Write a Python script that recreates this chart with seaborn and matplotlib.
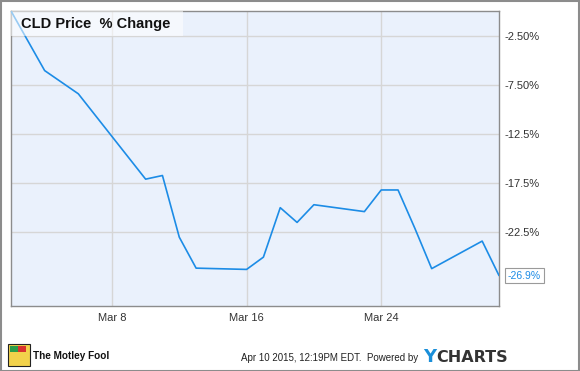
import matplotlib
matplotlib.use("Agg")
import matplotlib.pyplot as plt
import matplotlib.patches as mpatches
import seaborn as sns
import pandas as pd

dates = ["2015-03-02", "2015-03-04", "2015-03-06", "2015-03-10", "2015-03-11",
         "2015-03-12", "2015-03-13", "2015-03-16", "2015-03-17", "2015-03-18",
         "2015-03-19", "2015-03-20", "2015-03-23", "2015-03-24", "2015-03-25",
         "2015-03-26", "2015-03-27", "2015-03-30", "2015-03-31"]
pct_change = [0.0, -6.06, -8.42, -17.1, -16.73,
              -23.0, -26.15, -26.28, -25.03, -20.0,
              -21.5, -19.7, -20.4, -18.2, -18.2,
              -22.1, -26.2, -23.4, -26.9]
y_ticks = [-2.5, -7.5, -12.5, -17.5, -22.5]
y_tick_labels = ["-2.50%", "-7.50%", "-12.5%", "-17.5%", "-22.5%"]
x_ticks = ["2015-03-08", "2015-03-16", "2015-03-24"]
x_tick_labels = ["Mar 8", "Mar 16", "Mar 24"]
title = "CLD Price  % Change"
end_label = "-26.9%"

df = pd.DataFrame({"date": pd.to_datetime(dates), "pct": pct_change})

sns.set_style("white")
plt.rcParams["font.family"] = ["Liberation Sans", "DejaVu Sans"]

W, H = 580, 371
fig = plt.figure(figsize=(W / 100, H / 100), dpi=100)
fig.patch.set_facecolor("white")

left, right, top, bottom = 11, 499, 11, 306
ax = fig.add_axes([left / W, (H - bottom) / H, (right - left) / W, (bottom - top) / H])
ax.set_facecolor("#eaf1fc")

line_color = "#1c8ce6"
sns.lineplot(data=df, x="date", y="pct", ax=ax, color=line_color, linewidth=1.2, zorder=3)

ax.set_xlim(pd.Timestamp("2015-03-02"), pd.Timestamp("2015-03-31"))
ax.set_ylim(-30, 0)
ax.set_xticks(pd.to_datetime(x_ticks))
ax.set_xticklabels(x_tick_labels, fontsize=8, color="#333333")
ax.set_yticks(y_ticks)
ax.set_yticklabels(y_tick_labels, fontsize=8, color="#333333")
ax.yaxis.tick_right()
ax.tick_params(axis="both", length=0)
ax.tick_params(axis="y", pad=4)
ax.tick_params(axis="x", pad=5)
ax.grid(True, color="#d6d6d6", linewidth=1.0, zorder=0)
ax.set_axisbelow(True)
ax.set_xlabel("")
ax.set_ylabel("")
for s in ax.spines.values():
    s.set_color("#8c8c8c")
    s.set_linewidth(1.0)

# title box (semi-transparent)
ax.add_patch(mpatches.Rectangle((0, 1 - 25 / 295), 172 / 488, 25 / 295, transform=ax.transAxes,
                                facecolor="white", alpha=0.55, edgecolor="none", zorder=4))
ax.text(10 / 488, 1 - 13 / 295, title, transform=ax.transAxes, fontsize=10.5,
        fontweight="bold", color="#111111", va="center", ha="left", zorder=5)

# end value label
ax.annotate(end_label, xy=(df["date"].iloc[-1], df["pct"].iloc[-1]),
            xytext=(9, 0), textcoords="offset pixels", va="center", ha="left",
            fontsize=7.5, color=line_color, annotation_clip=False,
            bbox=dict(boxstyle="square,pad=0.25", fc="white", ec="#9a9a9a", lw=0.8))

# footer
fig.text(33 / W, 1 - 356 / H, "The Motley Fool", fontsize=7.2, fontweight="bold",
         color="#111111", va="center", ha="left")
logo = mpatches.Rectangle((8 / W, 1 - 366 / H), 22 / W, 22 / H, transform=fig.transFigure,
                          facecolor="#f2d24b", edgecolor="#222222", lw=0.8)
fig.patches.append(logo)
fig.patches.append(mpatches.Rectangle((10 / W, 1 - 352 / H), 8 / W, 6 / H, transform=fig.transFigure,
                                      facecolor="#2a9d4a", edgecolor="none"))
fig.patches.append(mpatches.Rectangle((18 / W, 1 - 352 / H), 8 / W, 6 / H, transform=fig.transFigure,
                                      facecolor="#d8322f", edgecolor="none"))
fig.text(418 / W, 1 - 358 / H, "Apr 10 2015, 12:19PM EDT.  Powered by", fontsize=7,
         color="#222222", va="center", ha="right")
fig.text(423 / W, 1 - 357 / H, "Y", fontsize=13, fontweight="bold", color="#1a8fd9",
         va="center", ha="left", family="DejaVu Sans")
fig.text(436 / W, 1 - 357 / H, "CHARTS", fontsize=11.5, fontweight="bold", color="#333333",
         va="center", ha="left", family="DejaVu Sans")

# outer border
fig.patches.append(mpatches.Rectangle((0.5 / W, 0.5 / H), (W - 1.5) / W, (H - 1.5) / H,
                                      transform=fig.transFigure, fill=False,
                                      edgecolor="#8c8c8c", lw=1.5))

fig.savefig("out.png", dpi=100, facecolor="white")
